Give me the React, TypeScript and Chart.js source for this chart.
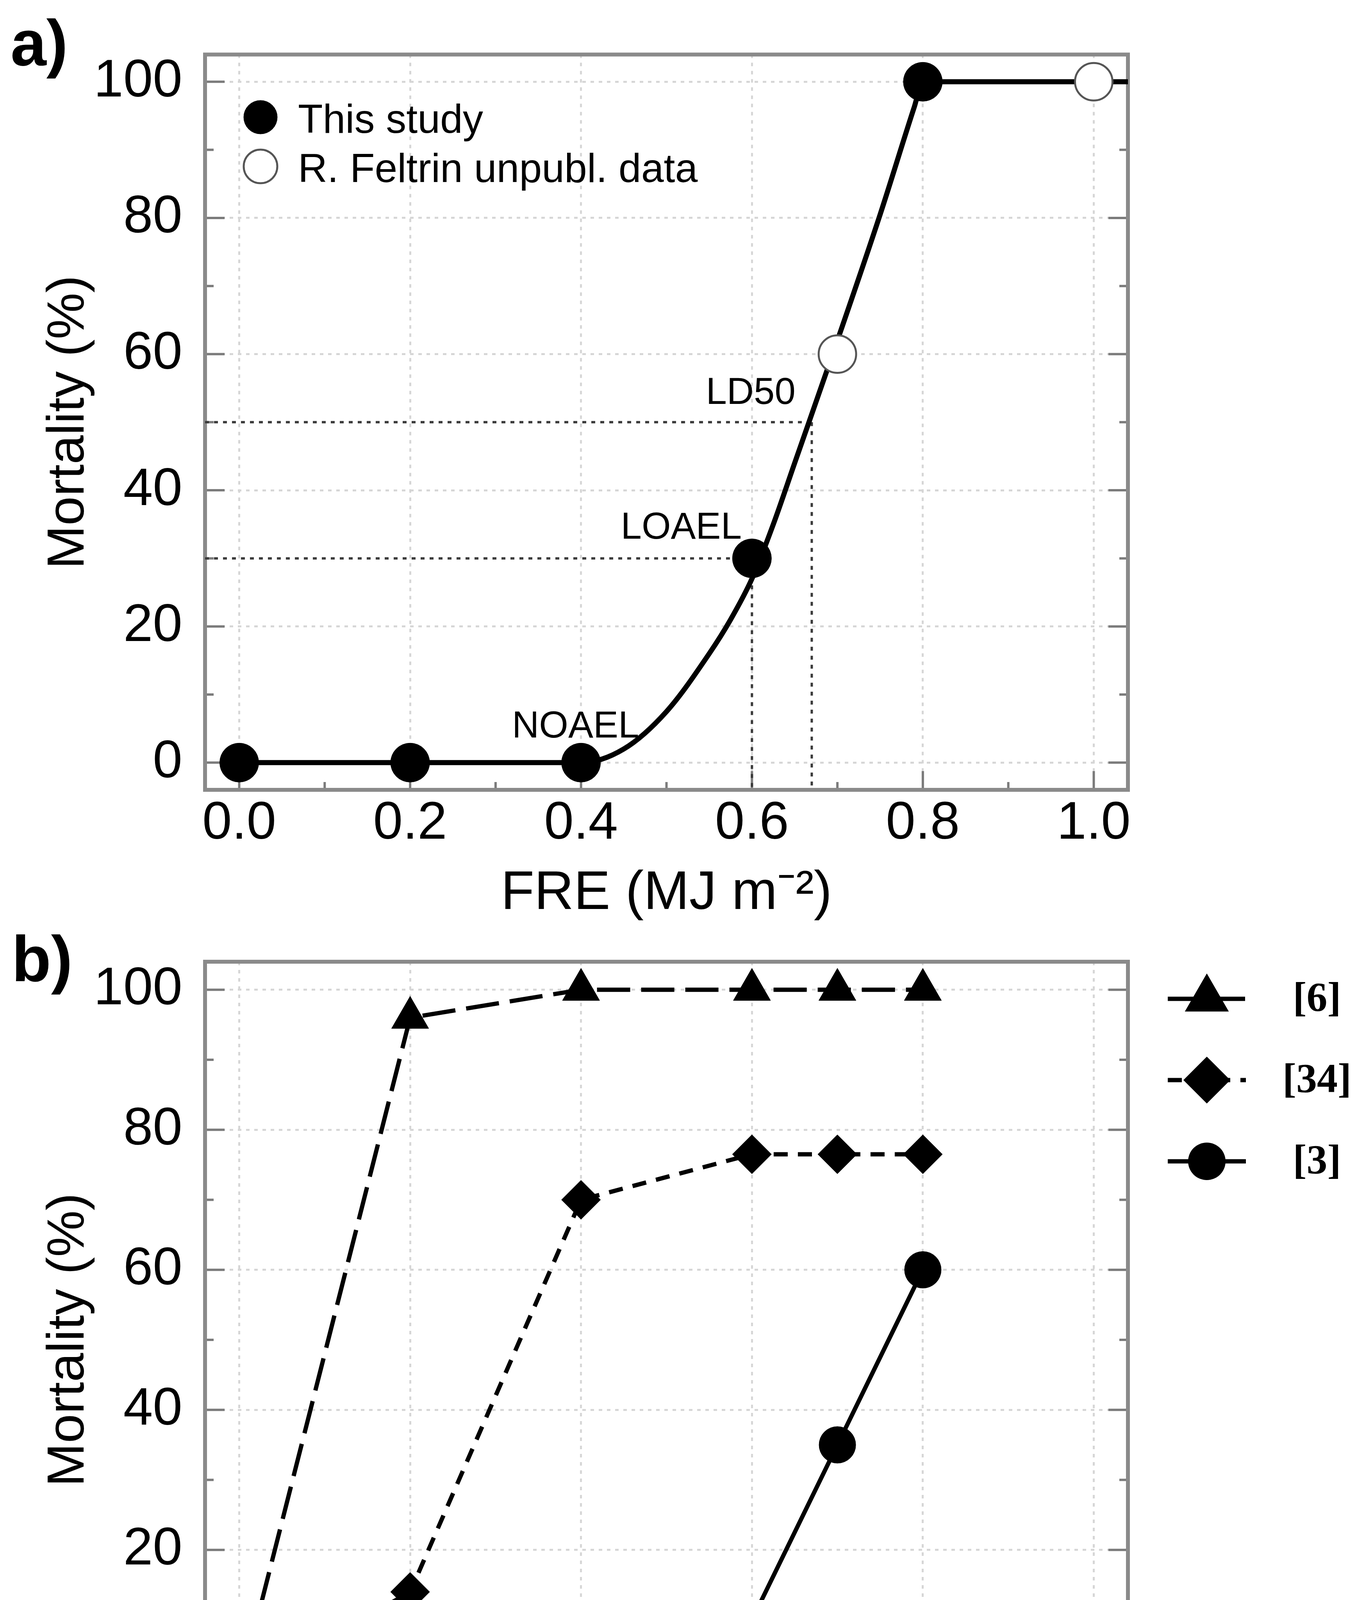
import React, { useEffect, useRef } from 'react';
import { Chart, registerables } from 'chart.js';

Chart.register(...registerables);

// ---- panel a: this study + Feltrin, with fitted curve ----
const studyX = [0, 0.2, 0.4, 0.6, 0.8];
const studyY = [0, 0, 0, 30, 100];
const feltrinX = [0.7, 1.0];
const feltrinY = [60, 100];
// fitted curve
const fitX = [0, 0.4, 0.45, 0.5, 0.55, 0.575, 0.6, 0.625, 0.65, 0.7, 0.75, 0.79, 0.8, 1.04];
const fitY = [0, 0, 2, 7.5, 16, 21, 27, 35, 44, 62, 80.5, 96.3, 100, 100];
const ld50 = { x: 0.67, y: 50 };
const loael = { x: 0.6, y: 30 };
const notes = [
  { text: 'LD50', x: 0.651, y: 52.7 },
  { text: 'LOAEL', x: 0.588, y: 32.9 },
  { text: 'NOAEL', x: 0.468, y: 3.7 },
];

// ---- panel b: literature ----
const refX = [0, 0.2, 0.4, 0.6, 0.7, 0.8];
const ref6 = [0, 96, 100, 100, 100, 100];
const ref34 = [0, 14, 70, 76.5, 76.5, 76.5];
const ref3 = [0, 0, 0, 10, 35, 60];

// ---- axes ----
const xTicks = [0, 0.2, 0.4, 0.6, 0.8, 1.0];
const xMinor = [0.1, 0.3, 0.5, 0.7, 0.9];
const yTicks = [0, 20, 40, 60, 80, 100];
const yMinor = [10, 30, 50, 70, 90];
const X_MIN = -0.04;
const X_MAX = 1.04;
const Y_MIN = -4;
const Y_MAX = 104;

const W = 3495;
const A_H = 2400;
const B_TOP = 2300;
const B_H = 4779 - B_TOP;
const SANS = '"Liberation Sans", Arial, sans-serif';
const SERIF = '"Liberation Serif", "Times New Roman", serif';

Chart.defaults.font.family = SANS;

if (typeof document !== 'undefined') document.body.style.margin = '0';

const pts = (xs: number[], ys: number[]) => xs.map((x, i) => ({ x, y: ys[i] }));

// inward ticks + gray frame
const frame = {
  id: 'frame',
  beforeDatasetsDraw(chart: any) {
    const { ctx, chartArea: a, scales } = chart;
    const xs = scales.x;
    const ys = scales.y;
    ctx.save();
    ctx.strokeStyle = '#7b7b7b';
    ctx.lineWidth = 6;
    ctx.beginPath();
    const xt = (vals: number[], len: number) => vals.forEach((v) => {
      const p = xs.getPixelForValue(v);
      ctx.moveTo(p, a.bottom);
      ctx.lineTo(p, a.bottom - len);
    });
    const yt = (vals: number[], len: number) => vals.forEach((v) => {
      const p = ys.getPixelForValue(v);
      ctx.moveTo(a.left, p);
      ctx.lineTo(a.left + len, p);
      ctx.moveTo(a.right, p);
      ctx.lineTo(a.right - len, p);
    });
    xt(xTicks, 48);
    xt(xMinor, 20);
    yt(yTicks, 50);
    yt(yMinor, 22);
    ctx.stroke();
    ctx.lineWidth = 10;
    ctx.strokeStyle = '#8a8a8a';
    ctx.strokeRect(a.left, a.top, a.right - a.left, a.bottom - a.top);
    ctx.restore();
  },
};

const panelLabel = (text: string, x: number, y: number) => ({
  id: 'panelLabel',
  afterDraw(chart: any) {
    const { ctx } = chart;
    ctx.save();
    ctx.fillStyle = '#000';
    ctx.font = `bold 165px ${SANS}`;
    ctx.textBaseline = 'alphabetic';
    ctx.fillText(text, x, y);
    ctx.restore();
  },
});

function scales(xHeight: number, titleBottom: number) {
  return {
    x: {
      type: 'linear',
      min: X_MIN,
      max: X_MAX,
      afterBuildTicks: (s: any) => { s.ticks = xTicks.map((v) => ({ value: v })); },
      afterFit: (s: any) => { s.height = xHeight; },
      ticks: {
        callback: (v: any) => Number(v).toFixed(1),
        font: { size: 136, lineHeight: 1.2 },
        color: '#000',
        padding: 6,
        maxRotation: 0,
        autoSkip: false,
      },
      grid: { color: '#d6d6d6', lineWidth: 5, drawTicks: false },
      border: { display: false, dash: [9, 12] },
      title: {
        display: true,
        text: 'FRE (MJ m\u207B\u00B2)',
        font: { size: 140, lineHeight: 1.2 },
        color: '#000',
        padding: { top: 0, bottom: titleBottom },
      },
    },
    y: {
      type: 'linear',
      min: Y_MIN,
      max: Y_MAX,
      afterBuildTicks: (s: any) => { s.ticks = yTicks.map((v) => ({ value: v })); },
      afterFit: (s: any) => { s.width = 525; },
      ticks: {
        callback: (v: any) => String(v),
        font: { size: 136, lineHeight: 1.2 },
        color: '#000',
        padding: 58,
        autoSkip: false,
      },
      grid: { color: '#d6d6d6', lineWidth: 5, drawTicks: false },
      border: { display: false, dash: [9, 12] },
      title: {
        display: true,
        text: 'Mortality (%)',
        font: { size: 134, lineHeight: 1.2 },
        color: '#000',
        padding: { top: 97, bottom: 0 },
      },
    },
  };
}

const PanelA: React.FC = () => {
  const ref = useRef<HTMLCanvasElement | null>(null);

  useEffect(() => {
    const ctx = ref.current?.getContext('2d');
    if (!ctx) return;

    const guide = {
      showLine: true,
      borderColor: '#3a3a3a',
      borderWidth: 6,
      borderDash: [10, 13],
      pointRadius: 0,
    };

    const legendA = {
      id: 'legendA',
      afterDatasetsDraw(chart: any) {
        const c = chart.ctx;
        const rows = [0, 1].map((i) => chart.data.datasets[i]);
        c.save();
        rows.forEach((ds: any, i: number) => {
          const cy = 300 + i * 126;
          c.beginPath();
          c.arc(667, cy, 43, 0, Math.PI * 2);
          c.fillStyle = ds.pointBackgroundColor;
          c.fill();
          c.lineWidth = ds.pointBorderWidth;
          c.strokeStyle = ds.pointBorderColor;
          c.stroke();
          c.fillStyle = '#000';
          c.font = `104px ${SANS}`;
          c.textBaseline = 'alphabetic';
          c.textAlign = 'left';
          c.fillText(ds.label, 763, cy + 40);
        });
        c.restore();
      },
    };

    const notesPlugin = {
      id: 'notes',
      afterDatasetsDraw(chart: any) {
        const c = chart.ctx;
        const xs = chart.scales.x;
        const ys = chart.scales.y;
        c.save();
        c.fillStyle = '#000';
        c.font = `96px ${SANS}`;
        c.textAlign = 'right';
        c.textBaseline = 'alphabetic';
        notes.forEach((n) => c.fillText(n.text, xs.getPixelForValue(n.x), ys.getPixelForValue(n.y)));
        c.restore();
      },
    };

    const chart = new Chart(ctx, {
      type: 'scatter',
      data: {
        datasets: [
          {
            label: 'This study',
            data: pts(studyX, studyY),
            pointRadius: 50,
            pointBackgroundColor: '#000',
            pointBorderColor: '#000',
            pointBorderWidth: 1,
            showLine: false,
          },
          {
            label: 'R. Feltrin unpubl. data',
            data: pts(feltrinX, feltrinY),
            pointRadius: 48,
            pointBackgroundColor: '#fff',
            pointBorderColor: '#555',
            pointBorderWidth: 5,
            showLine: false,
          },
          {
            label: 'fit',
            data: pts(fitX, fitY),
            showLine: true,
            borderColor: '#000',
            borderWidth: 13,
            pointRadius: 0,
            cubicInterpolationMode: 'monotone',
          },
          { label: 'LD50 h', data: [{ x: X_MIN, y: ld50.y }, { x: ld50.x, y: ld50.y }], ...guide },
          { label: 'LD50 v', data: [{ x: ld50.x, y: ld50.y }, { x: ld50.x, y: Y_MIN }], ...guide },
          { label: 'LOAEL h', data: [{ x: X_MIN, y: loael.y }, { x: loael.x, y: loael.y }], ...guide },
          { label: 'LOAEL v', data: [{ x: loael.x, y: loael.y }, { x: loael.x, y: Y_MIN }], ...guide },
        ],
      },
      options: {
        animation: false,
        responsive: false,
        devicePixelRatio: 1,
        events: [],
        layout: { padding: { left: 0, top: 135, right: W - 2888, bottom: 0 } },
        plugins: { legend: { display: false }, tooltip: { enabled: false } },
        scales: scales(378, 28) as any,
      },
      plugins: [frame, legendA, notesPlugin, panelLabel('a)', 27, 167)],
    } as any);

    return () => {
      chart.destroy();
    };
  }, []);

  return (
    <canvas
      ref={ref}
      width={W}
      height={A_H}
      style={{ position: 'absolute', left: 0, top: 0, width: W, height: A_H }}
    />
  );
};

const PanelB: React.FC = () => {
  const ref = useRef<HTMLCanvasElement | null>(null);

  useEffect(() => {
    const ctx = ref.current?.getContext('2d');
    if (!ctx) return;

    const marker = (c: any, style: string, x: number, y: number, r: number) => {
      c.beginPath();
      if (style === 'triangle') {
        c.moveTo(x, y - r);
        c.lineTo(x + r * Math.sin((2 * Math.PI) / 3), y - r * Math.cos((2 * Math.PI) / 3));
        c.lineTo(x - r * Math.sin((2 * Math.PI) / 3), y - r * Math.cos((2 * Math.PI) / 3));
      } else if (style === 'rectRot') {
        c.moveTo(x - r, y);
        c.lineTo(x, y - r);
        c.lineTo(x + r, y);
        c.lineTo(x, y + r);
      } else {
        c.arc(x, y, r, 0, Math.PI * 2);
      }
      c.closePath();
      c.fill();
    };

    const legendB = {
      id: 'legendB',
      afterDraw(chart: any) {
        const c = chart.ctx;
        const order = [1, 2, 0];
        const sizes: Record<string, number> = { triangle: 65, rectRot: 60, circle: 48 };
        c.save();
        order.forEach((di, row) => {
          const ds: any = chart.data.datasets[di];
          const cy = 2557 - B_TOP + row * 208;
          c.strokeStyle = '#000';
          c.lineWidth = ds.borderWidth;
          c.setLineDash(ds.borderDash || []);
          c.beginPath();
          c.moveTo(2990, cy);
          c.lineTo(3190, cy);
          c.stroke();
          c.setLineDash([]);
          c.fillStyle = '#000';
          marker(c, ds.pointStyle, 3090, cy, sizes[ds.pointStyle]);
          c.font = `bold 106px ${SERIF}`;
          c.textAlign = 'center';
          c.textBaseline = 'middle';
          c.fillText(ds.label, 3372, cy + 4);
        });
        c.restore();
      },
    };

    const common = {
      showLine: true,
      borderColor: '#000',
      borderWidth: 11,
      pointBackgroundColor: '#000',
      pointBorderColor: '#000',
      pointBorderWidth: 1,
    };

    const chart = new Chart(ctx, {
      type: 'scatter',
      data: {
        datasets: [
          { label: '[3]', data: pts(refX, ref3), pointStyle: 'circle', pointRadius: 47, ...common },
          { label: '[6]', data: pts(refX, ref6), pointStyle: 'triangle', pointRadius: 55, borderDash: [85, 28], ...common },
          { label: '[34]', data: pts(refX, ref34), pointStyle: 'rectRot', pointRadius: 50, borderDash: [36, 26], ...common },
        ],
      },
      options: {
        animation: false,
        responsive: false,
        devicePixelRatio: 1,
        events: [],
        layout: { padding: { left: 0, top: 2462 - B_TOP, right: W - 2888, bottom: 0 } },
        plugins: { legend: { display: false }, tooltip: { enabled: false } },
        scales: scales(381, 39) as any,
      },
      plugins: [frame, legendB, panelLabel('b)', 30, 2512 - B_TOP)],
    } as any);

    return () => {
      chart.destroy();
    };
  }, []);

  return (
    <canvas
      ref={ref}
      width={W}
      height={B_H}
      style={{ position: 'absolute', left: 0, top: B_TOP, width: W, height: B_H }}
    />
  );
};

export default function App() {
  return (
    <div style={{ position: 'relative', width: W, height: 4779, background: '#fff' }}>
      <PanelA />
      <PanelB />
    </div>
  );
}
